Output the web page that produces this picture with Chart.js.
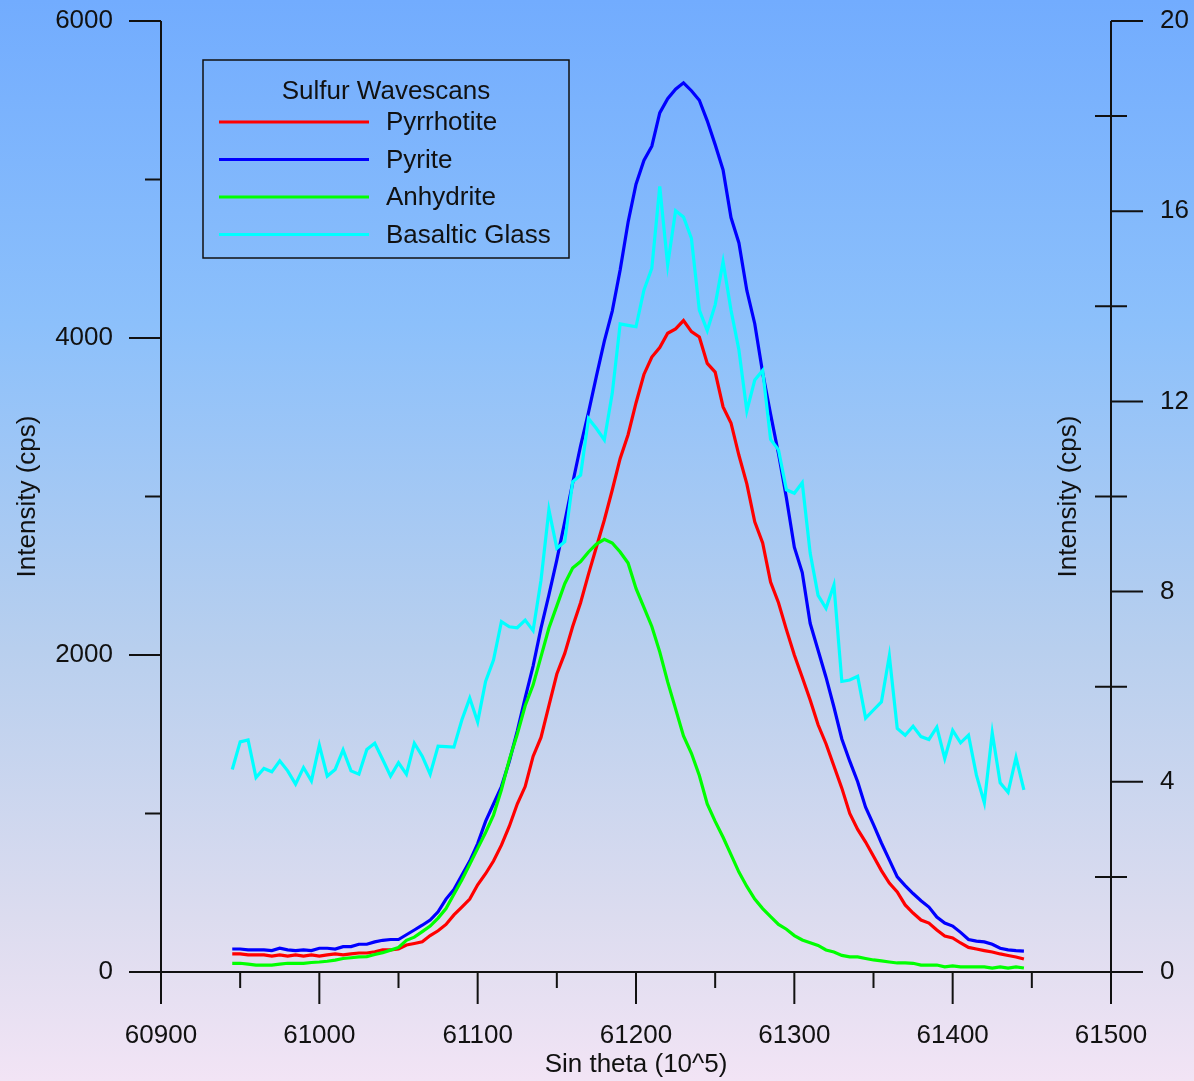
<!DOCTYPE html>
<html>
<head>
<meta charset="utf-8">
<title>Sulfur Wavescans</title>
<script src="https://cdn.jsdelivr.net/npm/chart.js@4.4.0/dist/chart.umd.min.js"></script>
<style>
  html, body { margin: 0; padding: 0; background: #fff; }
  canvas { display: block; }
</style>
</head>
<body>
<canvas id="wavescan" width="1194" height="1081"></canvas>
<script>
// sin theta (10^5) positions of the scan
var sinTheta = [
  60945, 60950, 60955, 60960, 60965, 60970, 60975, 60980, 60985, 60990,
  60995, 61000, 61005, 61010, 61015, 61020, 61025, 61030, 61035, 61040,
  61045, 61050, 61055, 61060, 61065, 61070, 61075, 61080, 61085, 61090,
  61095, 61100, 61105, 61110, 61115, 61120, 61125, 61130, 61135, 61140,
  61145, 61150, 61155, 61160, 61165, 61170, 61175, 61180, 61185, 61190,
  61195, 61200, 61205, 61210, 61215, 61220, 61225, 61230, 61235, 61240,
  61245, 61250, 61255, 61260, 61265, 61270, 61275, 61280, 61285, 61290,
  61295, 61300, 61305, 61310, 61315, 61320, 61325, 61330, 61335, 61340,
  61345, 61350, 61355, 61360, 61365, 61370, 61375, 61380, 61385, 61390,
  61395, 61400, 61405, 61410, 61415, 61420, 61425, 61430, 61435, 61440,
  61445
];

// left axis (cps)
var pyrrhotite = [
  114, 114, 108, 108, 108, 100, 108, 100, 108, 100,
  108, 100, 108, 114, 108, 114, 120, 120, 128, 139,
  139, 145, 170, 180, 191, 230, 260, 300, 360, 410,
  460, 550, 620, 700, 800, 920, 1060, 1170, 1360, 1480,
  1680, 1880, 2010, 2180, 2330, 2510, 2681, 2852, 3041, 3240,
  3390, 3590, 3770, 3880, 3940, 4030, 4057, 4110, 4040, 4006,
  3840, 3785, 3565, 3464, 3260, 3080, 2840, 2707, 2460, 2330,
  2160, 2000, 1860, 1716, 1560, 1440, 1300, 1160, 1000, 900,
  820, 730, 640, 561, 505, 423, 372, 328, 309, 265,
  227, 215, 183, 155, 145, 135, 126, 114, 104, 95,
  82
];

var pyrite = [
  145, 145, 140, 140, 140, 135, 150, 140, 135, 140,
  135, 150, 150, 145, 160, 160, 175, 175, 190, 200,
  205, 205, 235, 265, 295, 328, 380, 460, 520, 610,
  700, 810, 950, 1060, 1170, 1330, 1520, 1730, 1930, 2170,
  2380, 2600, 2840, 3085, 3320, 3530, 3760, 3980, 4170, 4430,
  4730, 4970, 5120, 5210, 5420, 5510, 5570, 5610, 5560, 5500,
  5370, 5220, 5060, 4760, 4600, 4300, 4090, 3780, 3520, 3270,
  2990, 2680, 2520, 2200, 2030, 1860, 1672, 1470, 1330, 1200,
  1040, 930, 814, 707, 600, 545, 495, 450, 410, 347,
  309, 290, 250, 205, 195, 190, 175, 150, 140, 135,
  132
];

var anhydrite = [
  55, 55, 50, 44, 44, 44, 50, 55, 55, 55,
  60, 63, 68, 75, 85, 90, 95, 97, 110, 122,
  138, 155, 200, 220, 255, 290, 340, 400, 490, 580,
  680, 780, 880, 990, 1150, 1340, 1500, 1680, 1810, 1990,
  2170, 2310, 2450, 2549, 2590, 2650, 2700, 2730, 2707, 2650,
  2580, 2420, 2300, 2180, 2020, 1830, 1660, 1490, 1380, 1240,
  1060, 950, 850, 740, 630, 540, 460, 400, 350, 300,
  270, 230, 202, 185, 168, 139, 126, 105, 95, 95,
  85, 76, 70, 63, 57, 57, 55, 44, 44, 44,
  32, 38, 32, 32, 32, 32, 25, 32, 25, 32,
  25
];

// right axis (cps)
var basalticGlass = [
  4.26, 4.84, 4.88, 4.09, 4.28, 4.21, 4.44, 4.23, 3.95, 4.30,
  4.02, 4.77, 4.12, 4.26, 4.67, 4.23, 4.16, 4.68, 4.81, 4.47,
  4.12, 4.40, 4.16, 4.81, 4.54, 4.16, 4.75, 4.74, 4.73, 5.30,
  5.76, 5.26, 6.11, 6.56, 7.37, 7.26, 7.24, 7.40, 7.18, 8.24,
  9.72, 8.91, 9.05, 10.31, 10.45, 11.64, 11.43, 11.19, 12.17, 13.63,
  13.60, 13.57, 14.34, 14.80, 16.52, 14.87, 16.01, 15.88, 15.43, 13.92,
  13.49, 14.03, 14.94, 13.92, 13.08, 11.80, 12.45, 12.65, 11.20, 10.98,
  10.14, 10.07, 10.29, 8.81, 7.92, 7.65, 8.14, 6.11, 6.14, 6.22,
  5.34, 5.51, 5.68, 6.65, 5.12, 4.98, 5.17, 4.95, 4.89, 5.15,
  4.49, 5.08, 4.82, 4.98, 4.14, 3.56, 5.03, 3.98, 3.78, 4.51,
  3.83
];

// tick labels and minor tick positions
var xTicks = [60900, 61000, 61100, 61200, 61300, 61400, 61500];
var xMinor = [60950, 61050, 61150, 61250, 61350, 61450];
var leftTicks = [0, 2000, 4000, 6000];
var leftMinor = [1000, 3000, 5000];
var rightTicks = [0, 4, 8, 12, 16, 20];
var rightMinor = [2, 6, 10, 14, 18];

var FONT = "'Liberation Sans', Arial, Helvetica, sans-serif";
var INK = '#111';

function pts(values) {
  return values.map(function(v, i) { return { x: sinTheta[i], y: v }; });
}

function useTicks(list) {
  return function(scale) {
    scale.ticks = list.map(function(v) { return { value: v }; });
  };
}

function plain(v) { return String(v); }

var backdrop = {
  id: 'backdrop',
  beforeDraw: function(chart) {
    var ctx = chart.ctx;
    var g = ctx.createLinearGradient(0, 0, 0, chart.height);
    g.addColorStop(0, '#72acfe');
    g.addColorStop(0.3, '#8cc0fb');
    g.addColorStop(0.6, '#b8cfee');
    g.addColorStop(0.85, '#dcdcef');
    g.addColorStop(1, '#f2e4f5');
    ctx.save();
    ctx.fillStyle = g;
    ctx.fillRect(0, 0, chart.width, chart.height);
    ctx.restore();
  }
};

// axis frame with long/short ticks, drawn from the chart scales
var frame = {
  id: 'frame',
  beforeDatasetsDraw: function(chart) {
    var ctx = chart.ctx;
    var xs = chart.scales.x, yl = chart.scales.y, yr = chart.scales.y1;
    var a = chart.chartArea;
    var big = 32, small = 16;
    ctx.save();
    ctx.strokeStyle = INK;
    ctx.lineWidth = 2;
    ctx.beginPath();
    // axis lines
    ctx.moveTo(a.left, a.top); ctx.lineTo(a.left, a.bottom + big);
    ctx.moveTo(a.right, a.top); ctx.lineTo(a.right, a.bottom + big);
    ctx.moveTo(a.left - big, a.bottom); ctx.lineTo(a.right + big, a.bottom);
    xTicks.forEach(function(v) {
      var px = xs.getPixelForValue(v);
      ctx.moveTo(px, a.bottom); ctx.lineTo(px, a.bottom + big);
    });
    xMinor.forEach(function(v) {
      var px = xs.getPixelForValue(v);
      ctx.moveTo(px, a.bottom); ctx.lineTo(px, a.bottom + small);
    });
    leftTicks.forEach(function(v) {
      var py = yl.getPixelForValue(v);
      ctx.moveTo(a.left - big, py); ctx.lineTo(a.left, py);
    });
    leftMinor.forEach(function(v) {
      var py = yl.getPixelForValue(v);
      ctx.moveTo(a.left - small, py); ctx.lineTo(a.left, py);
    });
    rightTicks.forEach(function(v) {
      var py = yr.getPixelForValue(v);
      ctx.moveTo(a.right, py); ctx.lineTo(a.right + big, py);
    });
    rightMinor.forEach(function(v) {
      var py = yr.getPixelForValue(v);
      ctx.moveTo(a.right - small, py); ctx.lineTo(a.right + small, py);
    });
    ctx.stroke();
    ctx.restore();
  },
  afterDraw: function(chart) {
    var ctx = chart.ctx;
    var a = chart.chartArea;
    ctx.save();
    // right axis title sits just inside the plot
    ctx.fillStyle = INK;
    ctx.font = '26px ' + FONT;
    ctx.textAlign = 'center';
    ctx.textBaseline = 'middle';
    ctx.translate(a.right - 42, (a.top + a.bottom) / 2);
    ctx.rotate(-Math.PI / 2);
    ctx.fillText('Intensity (cps)', 0, 0);
    ctx.restore();

    // legend box
    var box = { x: 203, y: 60, w: 366, h: 198 };
    ctx.save();
    ctx.strokeStyle = INK;
    ctx.lineWidth = 1.5;
    ctx.strokeRect(box.x, box.y, box.w, box.h);
    ctx.fillStyle = INK;
    ctx.font = '26px ' + FONT;
    ctx.textBaseline = 'middle';
    ctx.textAlign = 'center';
    ctx.fillText('Sulfur Wavescans', 386, 92);
    ctx.textAlign = 'left';
    chart.data.datasets.forEach(function(ds, k) {
      var ly = 122 + k * 37.5;
      ctx.strokeStyle = ds.borderColor;
      ctx.lineWidth = 3;
      ctx.beginPath();
      ctx.moveTo(219, ly); ctx.lineTo(369, ly);
      ctx.stroke();
      ctx.fillText(ds.label, 386, ly + 1);
    });
    ctx.restore();
  }
};

var tickFont = { family: FONT, size: 26 };

function fixY(width) {
  return function(s) {
    s.width = width;
    s.paddingTop = 0;
    s.paddingBottom = 0;
  };
}

new Chart(document.getElementById('wavescan').getContext('2d'), {
  type: 'line',
  data: {
    datasets: [
      { label: 'Pyrrhotite', data: pts(pyrrhotite), borderColor: '#ff0000', yAxisID: 'y', order: 4 },
      { label: 'Pyrite', data: pts(pyrite), borderColor: '#0000ff', yAxisID: 'y', order: 3 },
      { label: 'Anhydrite', data: pts(anhydrite), borderColor: '#00ff00', yAxisID: 'y', order: 2 },
      { label: 'Basaltic Glass', data: pts(basalticGlass), borderColor: '#00ffff', yAxisID: 'y1', order: 1 }
    ]
  },
  options: {
    responsive: false,
    animation: false,
    devicePixelRatio: 1,
    layout: { padding: { top: 21, left: 0, right: 0, bottom: 0 } },
    elements: {
      line: { borderWidth: 3.2, tension: 0, fill: false, borderJoinStyle: 'miter' },
      point: { radius: 0, hoverRadius: 0 }
    },
    plugins: { legend: { display: false }, tooltip: { enabled: false } },
    scales: {
      x: {
        type: 'linear', position: 'bottom', min: 60900, max: 61500,
        afterBuildTicks: useTicks(xTicks),
        afterFit: function(s) { s.height = 109; s.paddingLeft = 0; s.paddingRight = 0; },
        grid: { display: false, drawTicks: false },
        border: { display: false },
        ticks: { font: tickFont, color: INK, padding: 48, maxRotation: 0, autoSkip: false, callback: plain },
        title: { display: true, text: 'Sin theta (10^5)', font: tickFont, color: INK, padding: { top: 0, bottom: 1 } }
      },
      y: {
        position: 'left', min: 0, max: 6000,
        afterBuildTicks: useTicks(leftTicks),
        afterFit: fixY(161),
        grid: { display: false, drawTicks: false },
        border: { display: false },
        ticks: { font: tickFont, color: INK, padding: 48, callback: plain },
        title: { display: true, text: 'Intensity (cps)', font: tickFont, color: INK, padding: { top: 12, bottom: 0 } }
      },
      y1: {
        position: 'right', min: 0, max: 20,
        afterBuildTicks: useTicks(rightTicks),
        afterFit: fixY(83),
        grid: { display: false, drawTicks: false },
        border: { display: false },
        ticks: { font: tickFont, color: INK, padding: 49, callback: plain }
      }
    }
  },
  plugins: [backdrop, frame]
});
</script>
</body>
</html>
